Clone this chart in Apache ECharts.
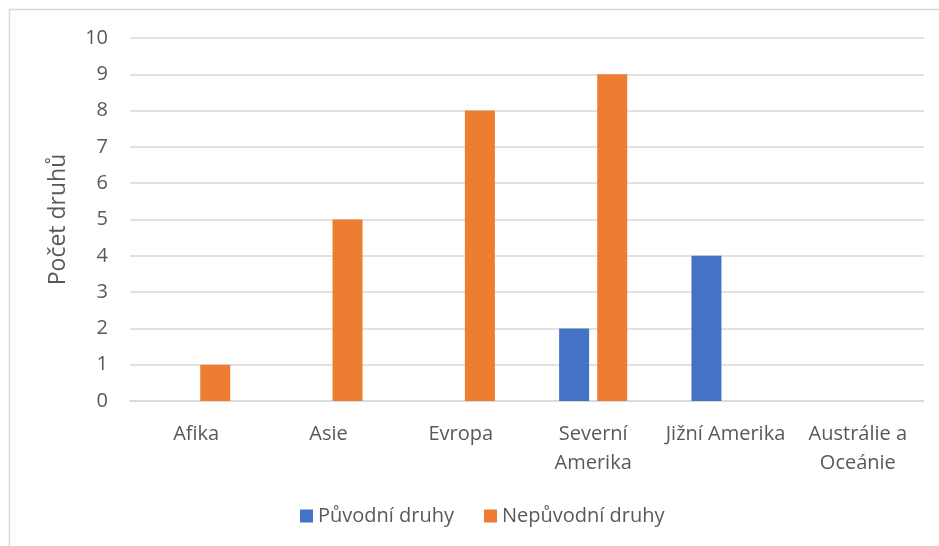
<!DOCTYPE html>
<html><head><meta charset="utf-8">
<script src="https://cdn.jsdelivr.net/npm/echarts@6/dist/echarts.min.js"></script>
<style>html,body{margin:0;padding:0;background:#fff}#c{width:939px;height:546px}</style>
</head><body><div id="c"></div>
<script>
const categories = ['Afika', 'Asie', 'Evropa', 'Severní\nAmerika', 'Jižní Amerika', 'Austrálie a\nOceánie'];
const puvodni = [0, 0, 0, 2, 4, 0];
const nepuvodni = [1, 5, 8, 9, 0, 0];
const seriesNames = ['Původní druhy', 'Nepůvodní druhy'];
const yName = 'Počet druhů';
const FONT = '"Open Sans", "Noto Sans", sans-serif';
const chart = echarts.init(document.getElementById('c'), null, {renderer: 'canvas'});
chart.setOption({
  animation: false,
  textStyle: {fontFamily: FONT},
  graphic: [{type: 'rect', shape: {x: 9.5, y: 9.5, width: 940, height: 560}, style: {fill: 'none', stroke: '#d9d9d9', lineWidth: 1.5}, z: -1}],
  grid: {left: 130, right: 15, top: 38, bottom: 145},
  legend: {
    bottom: 15, left: 295, itemWidth: 13, itemHeight: 13, itemGap: 30,
    icon: 'rect',
    textStyle: {fontSize: 20, color: '#595959', fontFamily: FONT},
    data: seriesNames
  },
  xAxis: {
    type: 'category', data: categories,
    axisLine: {show: true, lineStyle: {color: '#d9d9d9', width: 1.5}},
    axisTick: {show: false},
    axisLabel: {fontSize: 20, color: '#595959', lineHeight: 29, margin: 19, interval: 0, fontFamily: FONT}
  },
  yAxis: {
    type: 'value', min: 0, max: 10, interval: 1,
    name: yName, nameLocation: 'middle', nameGap: 60, nameRotate: 90,
    nameTextStyle: {fontSize: 23, color: '#595959', fontFamily: FONT},
    axisLine: {show: false}, axisTick: {show: false},
    axisLabel: {fontSize: 20, color: '#595959', margin: 22, fontFamily: FONT},
    splitLine: {lineStyle: {color: '#d9d9d9', width: 1.5}}
  },
  series: [
    {name: seriesNames[0], type: 'bar', data: puvodni, barWidth: 30, barGap: '27%', itemStyle: {color: '#4472C4'}},
    {name: seriesNames[1], type: 'bar', data: nepuvodni, barWidth: 30, barGap: '27%', itemStyle: {color: '#ED7D31'}}
  ]
});
</script></body></html>
